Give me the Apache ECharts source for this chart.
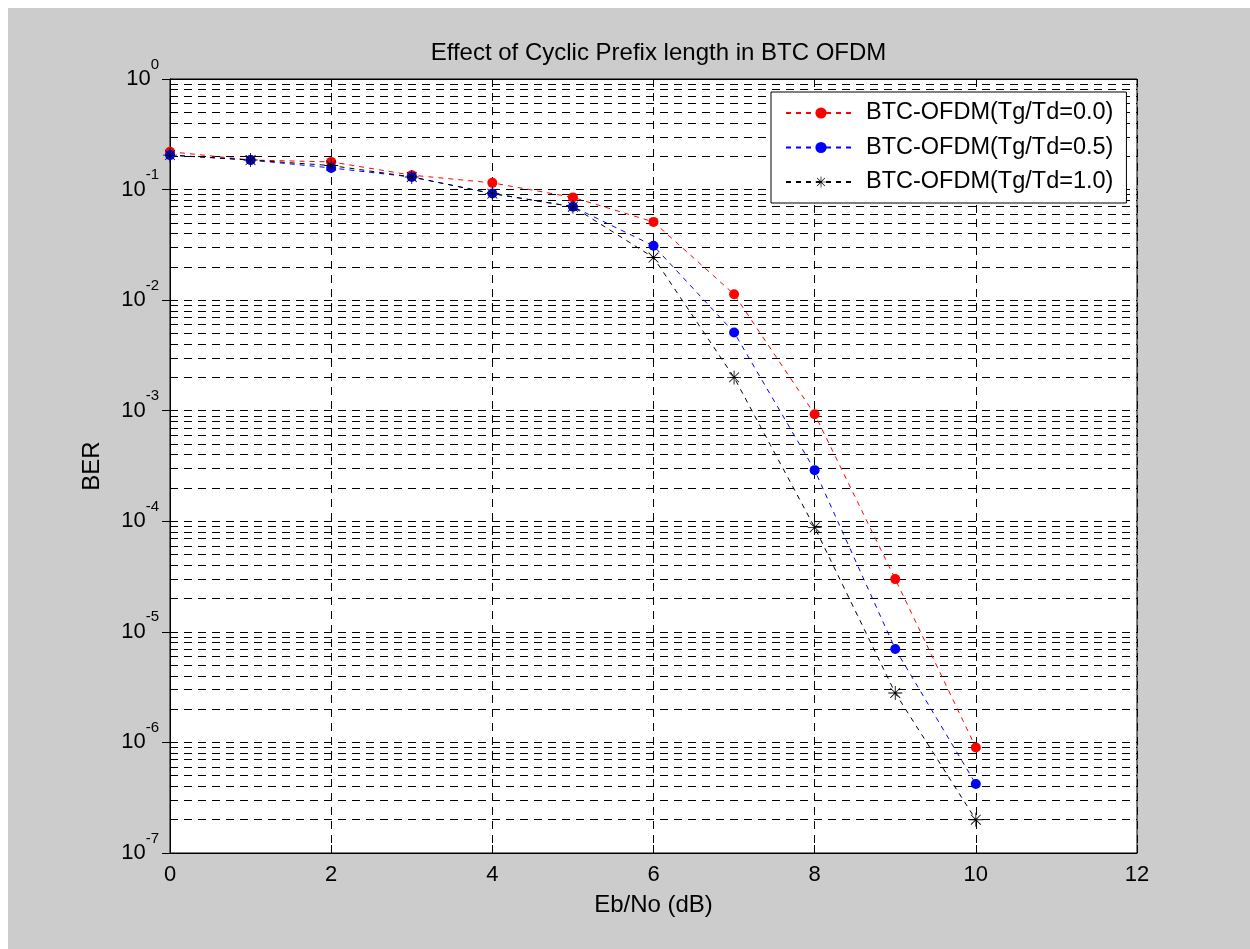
<!DOCTYPE html>
<html>
<head>
<meta charset="utf-8">
<script src="https://cdn.jsdelivr.net/npm/echarts@6/dist/echarts.min.js"></script>
<style>
  html, body { margin: 0; padding: 0; background: #ffffff; }
  #chart { position: absolute; left: 8px; top: 8px; width: 1242px; height: 941px; }
</style>
</head>
<body>
<div id="chart"></div>
<script>
// Eb/No points (dB)
const ebno = [0, 1, 2, 3, 4, 5, 6, 7, 8, 9, 10];

// Bit error rate for each guard-interval ratio
const berTg00 = [0.22, 0.185, 0.178, 0.135, 0.115, 0.085, 0.051, 0.0113, 0.00093, 3.0e-5, 9.0e-7];
const berTg05 = [0.205, 0.185, 0.157, 0.13, 0.092, 0.07, 0.031, 0.0051, 2.9e-4, 7.0e-6, 4.2e-7];
const berTg10 = [0.205, 0.185, 0.165, 0.13, 0.092, 0.07, 0.0243, 0.002, 8.8e-5, 2.8e-6, 2.0e-7];

const seriesNames = ['BTC-OFDM(Tg/Td=0.0)', 'BTC-OFDM(Tg/Td=0.5)', 'BTC-OFDM(Tg/Td=1.0)'];

// Axis ranges and tick settings
const xTicks = [0, 2, 4, 6, 8, 10, 12];
const yDecades = [-7, -6, -5, -4, -3, -2, -1, 0];
const minorMantissas = [2, 3, 4, 5, 6, 7, 8, 9];

// Minor log grid values (2..9 x 10^n inside each decade)
const minorGrid = [];
yDecades.slice(0, -1).forEach(function (e) {
  minorMantissas.forEach(function (k) { minorGrid.push(k * Math.pow(10, e)); });
});

const X_MIN = xTicks[0];
const X_MAX = xTicks[xTicks.length - 1];
const FONT = 'Liberation Sans, Arial, sans-serif';
const gridDash = [8, 6];
const lineDash = [5, 5];

// MATLAB-like asterisk marker
const asterisk = 'path://M0 47L100 47L100 53L0 53Z M47 0L53 0L53 100L47 100Z M13 17L17 13L87 83L83 87Z M83 13L87 17L17 87L13 83Z';

function pairs(ys) { return ebno.map(function (x, i) { return [x, ys[i]]; }); }

const chart = echarts.init(document.getElementById('chart'), null, { renderer: 'canvas' });

chart.setOption({
  animation: false,
  backgroundColor: '#cccccc',
  textStyle: { fontFamily: FONT },
  title: {
    text: 'Effect of Cyclic Prefix length in BTC OFDM',
    left: 645.5, top: 28,
    textAlign: 'center',
    textStyle: { fontSize: 24, fontWeight: 'normal', color: '#000', fontFamily: FONT }
  },
  grid: {
    left: 162, top: 71, width: 967, height: 774,
    show: true, backgroundColor: '#ffffff', borderColor: '#000', borderWidth: 1
  },
  legend: {
    orient: 'vertical',
    left: 763, top: 84,
    data: seriesNames,
    backgroundColor: '#ffffff',
    borderColor: '#000', borderWidth: 1, borderRadius: 0,
    padding: [9, 13, 9, 14],
    itemWidth: 70, itemHeight: 14, itemGap: 10.5,
    textStyle: { fontSize: 23.5, color: '#000', fontFamily: FONT, padding: [0, 0, 0, 5] }
  },
  xAxis: [{
    type: 'value', min: X_MIN, max: X_MAX, interval: 2,
    name: 'Eb/No (dB)', nameLocation: 'middle', nameGap: 40,
    nameTextStyle: { fontSize: 24, color: '#000', fontFamily: FONT },
    axisLine: { show: true, lineStyle: { color: '#000', width: 1 } },
    axisTick: { show: true, inside: true, length: 8, lineStyle: { color: '#000' } },
    axisLabel: { fontSize: 22, color: '#000', margin: 11, fontFamily: FONT },
    splitLine: { show: true, lineStyle: { color: '#000', type: gridDash, width: 1 } }
  }, {
    type: 'value', position: 'top', min: X_MIN, max: X_MAX, interval: 2,
    axisLine: { show: true, lineStyle: { color: '#000' } },
    axisTick: { show: true, inside: true, length: 8, lineStyle: { color: '#000' } },
    axisLabel: { show: false }, splitLine: { show: false }
  }],
  yAxis: [{
    type: 'log', logBase: 10, min: 1e-7, max: 1, splitNumber: 10,
    name: 'BER', nameLocation: 'middle', nameGap: 66, nameRotate: 90,
    nameTextStyle: { fontSize: 24, color: '#000', fontFamily: FONT },
    axisLine: { show: true, lineStyle: { color: '#000', width: 1 } },
    axisTick: { show: true, inside: true, length: 8, lineStyle: { color: '#000' } },
    axisLabel: {
      margin: 11, color: '#000',
      formatter: function (v) { return '{b|10}{s|' + Math.round(Math.log10(v)) + '}'; },
      rich: {
        b: { fontSize: 22, lineHeight: 44, fontFamily: FONT, color: '#000', verticalAlign: 'middle' },
        s: { fontSize: 15, lineHeight: 20, fontFamily: FONT, color: '#000', verticalAlign: 'top' }
      }
    },
    splitLine: { show: true, lineStyle: { color: '#000', type: gridDash, width: 1 } }
  }, {
    type: 'log', logBase: 10, min: 1e-7, max: 1, splitNumber: 10, position: 'right',
    axisLine: { show: true, lineStyle: { color: '#000' } },
    axisTick: { show: true, inside: true, length: 8, lineStyle: { color: '#000' } },
    axisLabel: { show: false }, splitLine: { show: false }
  }],
  series: [{
    // minor grid lines across the plot, one segment per 2..9 x 10^n value
    name: 'minor-grid', type: 'lines', coordinateSystem: 'cartesian2d',
    silent: true, z: 1, polyline: false,
    lineStyle: { color: '#000', type: gridDash, width: 1, opacity: 1 },
    data: minorGrid.map(function (v) { return { coords: [[X_MIN, v], [X_MAX, v]] }; })
  }, {
    name: seriesNames[0], type: 'line', data: pairs(berTg00),
    symbol: 'circle', symbolSize: 10, z: 3,
    itemStyle: { color: '#ff0000' },
    lineStyle: { color: '#ff0000', width: 1, type: lineDash }
  }, {
    name: seriesNames[1], type: 'line', data: pairs(berTg05),
    symbol: 'circle', symbolSize: 10, z: 3,
    itemStyle: { color: '#0000ff' },
    lineStyle: { color: '#0000ff', width: 1, type: lineDash }
  }, {
    name: seriesNames[2], type: 'line', data: pairs(berTg10),
    symbol: asterisk, symbolSize: 14, z: 3,
    itemStyle: { color: '#000000' },
    lineStyle: { color: '#000000', width: 1, type: lineDash }
  }]
});
</script>
</body>
</html>
